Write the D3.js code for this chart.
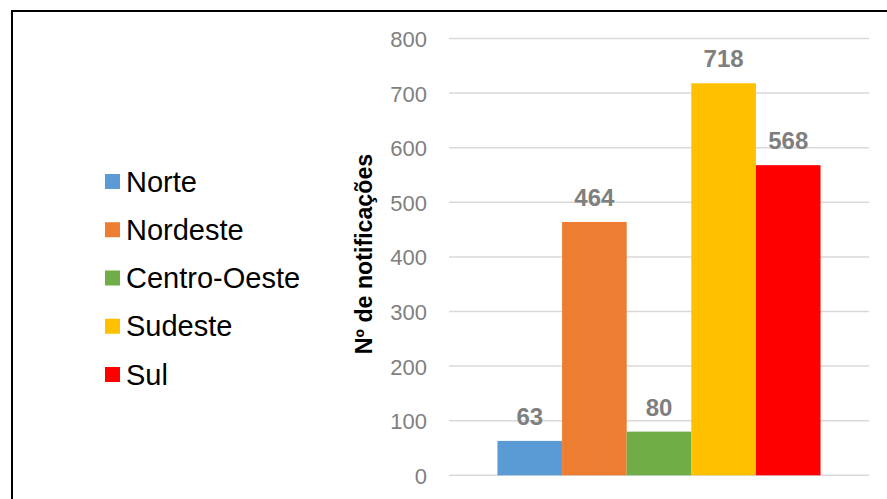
<!DOCTYPE html>
<html>
<head>
<meta charset="utf-8">
<script src="https://cdn.jsdelivr.net/npm/d3@7"></script>
<style>
  html, body { margin: 0; padding: 0; background: #ffffff; }
  svg { display: block; }
</style>
</head>
<body>
<svg id="chart" width="887" height="499"></svg>
<script>
const regions = ["Norte", "Nordeste", "Centro-Oeste", "Sudeste", "Sul"];
const values = [63, 464, 80, 718, 568];
const colors = ["#5B9BD5", "#ED7D31", "#70AD47", "#FFC000", "#FF0000"];
const yTicks = [0, 100, 200, 300, 400, 500, 600, 700, 800];
const yTitle = "Nº de notificações";

const svg = d3.select("#chart");
const font = "'Liberation Sans', Arial, sans-serif";

// outer border
svg.append("rect")
  .attr("x", 12).attr("y", 11)
  .attr("width", 900).attr("height", 520)
  .attr("fill", "none").attr("stroke", "#000").attr("stroke-width", 2);

const plot = { left: 449, right: 869, top: 38.5, bottom: 475.3 };

const y = d3.scaleLinear().domain([0, 800]).range([plot.bottom, plot.top]);
const x = d3.scaleBand().domain(regions).range([plot.left, plot.right])
  .paddingInner(0).paddingOuter(0.75);

// gridlines
svg.append("g").selectAll("line").data(yTicks).join("line")
  .attr("x1", plot.left).attr("x2", plot.right)
  .attr("y1", d => y(d)).attr("y2", d => y(d))
  .attr("stroke", "#D9D9D9").attr("stroke-width", 1.5);

// y axis labels
const yAxis = d3.axisLeft(y).tickValues(yTicks).tickSize(0).tickPadding(0);
const gy = svg.append("g").attr("transform", `translate(427,0)`).call(yAxis);
gy.select(".domain").remove();
gy.selectAll("text")
  .attr("font-family", font).attr("font-size", 22)
  .attr("fill", "#7F7F7F").attr("dy", "0.36em");

// bars
svg.append("g").selectAll("rect").data(regions).join("rect")
  .attr("x", d => x(d)).attr("width", x.bandwidth())
  .attr("y", (d, i) => y(values[i]))
  .attr("height", (d, i) => y(0) - y(values[i]))
  .attr("fill", (d, i) => colors[i]);

// data labels
svg.append("g").selectAll("text").data(regions).join("text")
  .attr("x", d => x(d) + x.bandwidth() / 2)
  .attr("y", (d, i) => y(values[i]) - 16)
  .attr("text-anchor", "middle")
  .attr("font-family", font).attr("font-weight", "bold").attr("font-size", 24)
  .attr("fill", "#7F7F7F")
  .text((d, i) => values[i]);

// y axis title
svg.append("text")
  .attr("transform", `translate(372,254) rotate(-90)`)
  .attr("text-anchor", "middle")
  .attr("font-family", font).attr("font-weight", "bold").attr("font-size", 23.2)
  .attr("fill", "#000")
  .text(yTitle);

// legend
const legend = svg.append("g").selectAll("g").data(regions).join("g")
  .attr("transform", (d, i) => `translate(105, ${181.5 + i * 48.25})`);
legend.append("rect")
  .attr("x", 0).attr("y", -7.5).attr("width", 15).attr("height", 15)
  .attr("fill", (d, i) => colors[i]);
legend.append("text")
  .attr("x", 21).attr("y", 0).attr("dy", "0.35em")
  .attr("font-family", font).attr("font-size", 29)
  .attr("fill", "#000")
  .text(d => d);
</script>
</body>
</html>
